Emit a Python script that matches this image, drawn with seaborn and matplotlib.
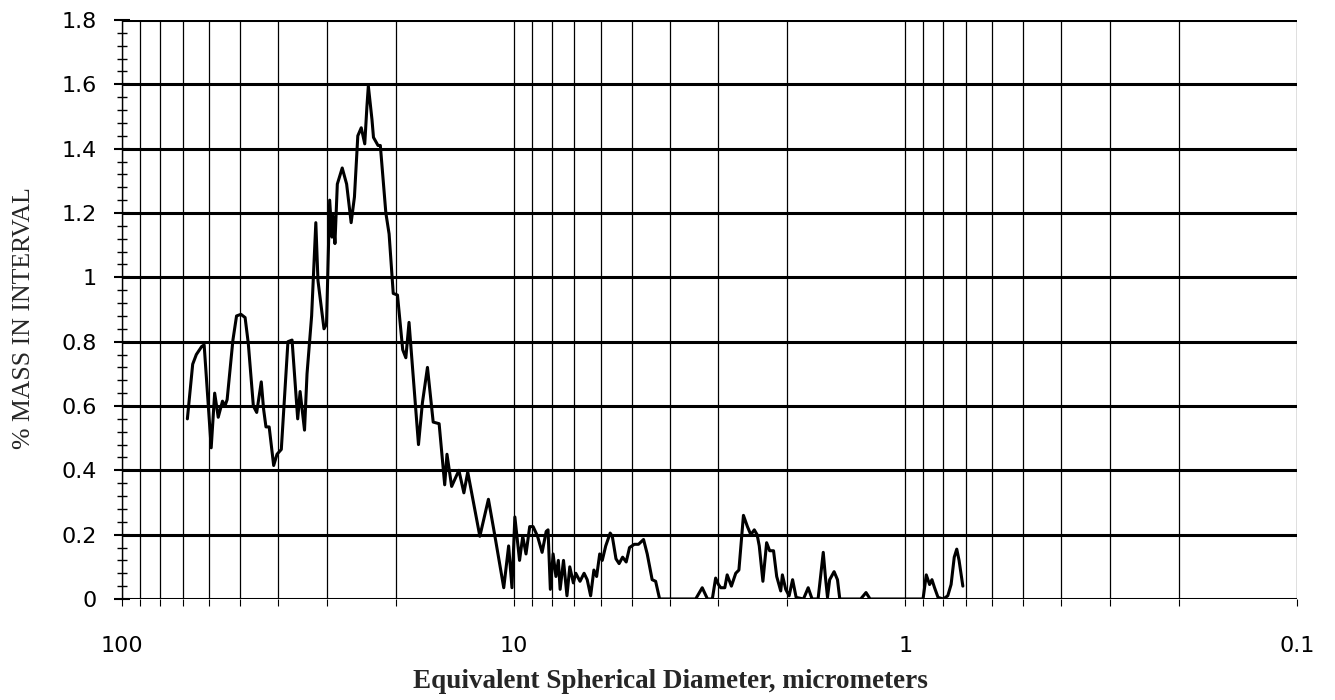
import numpy as np
import pandas as pd
import matplotlib
matplotlib.use('Agg')
import matplotlib.pyplot as plt
import matplotlib.ticker as mticker
import seaborn as sns

# particle size distribution
diameter_um = [68.1, 66.0, 64.6, 62.6, 61.7, 60.6, 59.2, 58.0, 56.8, 55.4,
               54.6, 53.9, 52.1, 51.0, 49.7, 48.5, 47.6, 46.2, 45.3, 44.1,
               43.5, 42.9, 42.1, 41.0, 40.2, 39.2, 37.7, 36.8, 35.6, 35.1,
               34.2, 33.7, 32.8, 32.0, 31.6, 30.5, 30.05, 29.5, 29.1, 28.9,
               28.6, 28.2, 27.4, 26.7, 26.0, 25.5, 25.0, 24.5, 24.0, 23.7,
               23.5, 23.0, 22.8, 22.2, 21.9, 21.2, 20.8, 20.3, 19.8, 19.2,
               18.85, 18.5, 17.5, 17.1, 16.6, 16.05, 15.5, 15.0, 14.8, 14.4,
               13.8, 13.4, 13.1, 12.2, 11.6, 11.2, 10.6, 10.3, 10.1, 9.93,
               9.66, 9.48, 9.30, 9.10, 8.92, 8.69, 8.46, 8.26, 8.17, 8.06,
               7.93, 7.80, 7.69, 7.61, 7.46, 7.31, 7.19, 7.04, 6.94, 6.77,
               6.61, 6.49, 6.36, 6.24, 6.14, 6.03, 5.94, 5.82, 5.67, 5.60,
               5.48, 5.38, 5.27, 5.16, 5.06, 4.92, 4.80, 4.66, 4.56, 4.43,
               4.34, 4.24, 3.43, 3.30, 3.20, 3.11, 3.05, 3.00, 2.96, 2.89,
               2.85, 2.78, 2.71, 2.66, 2.59, 2.53, 2.48, 2.43, 2.39, 2.36,
               2.31, 2.26, 2.22, 2.17, 2.13, 2.08, 2.06, 2.02, 1.98, 1.94,
               1.90, 1.82, 1.77, 1.73, 1.67, 1.62, 1.60, 1.58, 1.56, 1.52,
               1.49, 1.47, 1.30, 1.26, 1.23, 0.901, 0.884, 0.867, 0.855, 0.842,
               0.825, 0.800, 0.779, 0.764, 0.750, 0.739, 0.729, 0.713]

mass_pct = [0.56, 0.73, 0.76, 0.785, 0.79, 0.65, 0.47, 0.64, 0.565, 0.615,
            0.60, 0.62, 0.805, 0.88, 0.885, 0.875, 0.795, 0.60, 0.58, 0.675,
            0.59, 0.535, 0.535, 0.415, 0.45, 0.465, 0.80, 0.805, 0.56, 0.645,
            0.525, 0.70, 0.88, 1.17, 0.99, 0.84, 0.855, 1.24, 1.125, 1.19,
            1.105, 1.29, 1.34, 1.29, 1.17, 1.25, 1.44, 1.465, 1.415, 1.53,
            1.595, 1.49, 1.435, 1.41, 1.41, 1.20, 1.135, 0.95, 0.945, 0.775,
            0.75, 0.86, 0.48, 0.61, 0.72, 0.55, 0.545, 0.355, 0.45, 0.35,
            0.40, 0.33, 0.395, 0.195, 0.31, 0.205, 0.035, 0.165, 0.035, 0.255,
            0.12, 0.195, 0.14, 0.225, 0.225, 0.195, 0.145, 0.21, 0.215, 0.03,
            0.14, 0.07, 0.12, 0.03, 0.12, 0.01, 0.10, 0.05, 0.08, 0.055,
            0.08, 0.06, 0.01, 0.09, 0.07, 0.14, 0.12, 0.165, 0.205, 0.195,
            0.125, 0.11, 0.13, 0.115, 0.16, 0.17, 0.17, 0.185, 0.14, 0.06,
            0.055, 0.0, 0.0, 0.035, 0.0, 0.0, 0.065, 0.045, 0.035, 0.035,
            0.075, 0.04, 0.08, 0.09, 0.26, 0.225, 0.20, 0.215, 0.20, 0.165,
            0.055, 0.175, 0.15, 0.15, 0.07, 0.025, 0.075, 0.03, 0.01, 0.06,
            0.005, 0.0, 0.035, 0.0, 0.0, 0.145, 0.07, 0.005, 0.06, 0.085,
            0.06, 0.0, 0.0, 0.02, 0.0, 0.0, 0.075, 0.045, 0.06, 0.035,
            0.005, 0.0, 0.01, 0.045, 0.13, 0.155, 0.12, 0.04]

x_ticks = [100, 10, 1, 0.1]
x_tick_labels = ['100', '10', '1', '0.1']
y_ticks = [0, 0.2, 0.4, 0.6, 0.8, 1.0, 1.2, 1.4, 1.6, 1.8]
y_tick_labels = ['0', '0.2', '0.4', '0.6', '0.8', '1', '1.2', '1.4', '1.6', '1.8']

sns.set_theme(style='white')
plt.rcParams['font.family'] = ['DejaVu Sans']

df = pd.DataFrame({'diameter': diameter_um, 'mass': mass_pct})

fig = plt.figure(figsize=(13.35, 7.0), dpi=100)
ax = fig.add_axes([0.0914, 0.1443, 0.8801, 0.8271])

sns.lineplot(data=df, x='diameter', y='mass', sort=False, estimator=None,
             color='black', linewidth=2.2, ax=ax)

ax.set_xscale('log')
ax.set_xlim(100, 0.1)
ax.set_ylim(0, 1.8)

ax.set_xticks(x_ticks)
ax.set_xticklabels(x_tick_labels)
ax.xaxis.set_minor_locator(mticker.LogLocator(base=10, subs=np.arange(2, 10)))
ax.xaxis.set_minor_formatter(mticker.NullFormatter())
ax.set_yticks(y_ticks)
ax.set_yticklabels(y_tick_labels)
ax.yaxis.set_minor_locator(mticker.MultipleLocator(0.04))

# thin vertical grid on every log subdivision, heavy horizontal rules
ax.grid(True, which='both', axis='x', color='black', linewidth=0.9)
for yv in y_ticks:
    ax.axhline(yv, color='black', linewidth=2.2, zorder=1)

for side in ['top', 'right', 'bottom']:
    ax.spines[side].set_visible(False)
ax.spines['left'].set_color('black')
ax.spines['left'].set_linewidth(1.0)

ax.tick_params(axis='y', which='major', direction='inout', length=12, width=1.5,
               colors='black', labelsize=16, pad=12, left=True)
ax.tick_params(axis='y', which='minor', direction='inout', length=7, width=1,
               colors='black', left=True)
ax.tick_params(axis='x', which='both', direction='out', length=5, width=0.8,
               colors='black', labelsize=16, pad=22, bottom=True)

ax.set_xlabel('')
ax.set_ylabel('')
fig.text(0.502, 0.026, 'Equivalent Spherical Diameter, micrometers',
         ha='center', va='center', fontsize=19.5, fontweight='bold',
         family='Liberation Serif')
fig.text(0.018, 0.546, '% MASS IN INTERVAL', ha='center', va='center',
         rotation=90, fontsize=18.5, family='Liberation Serif')

fig.savefig('out.png', dpi=100, facecolor='white')
plt.close(fig)
